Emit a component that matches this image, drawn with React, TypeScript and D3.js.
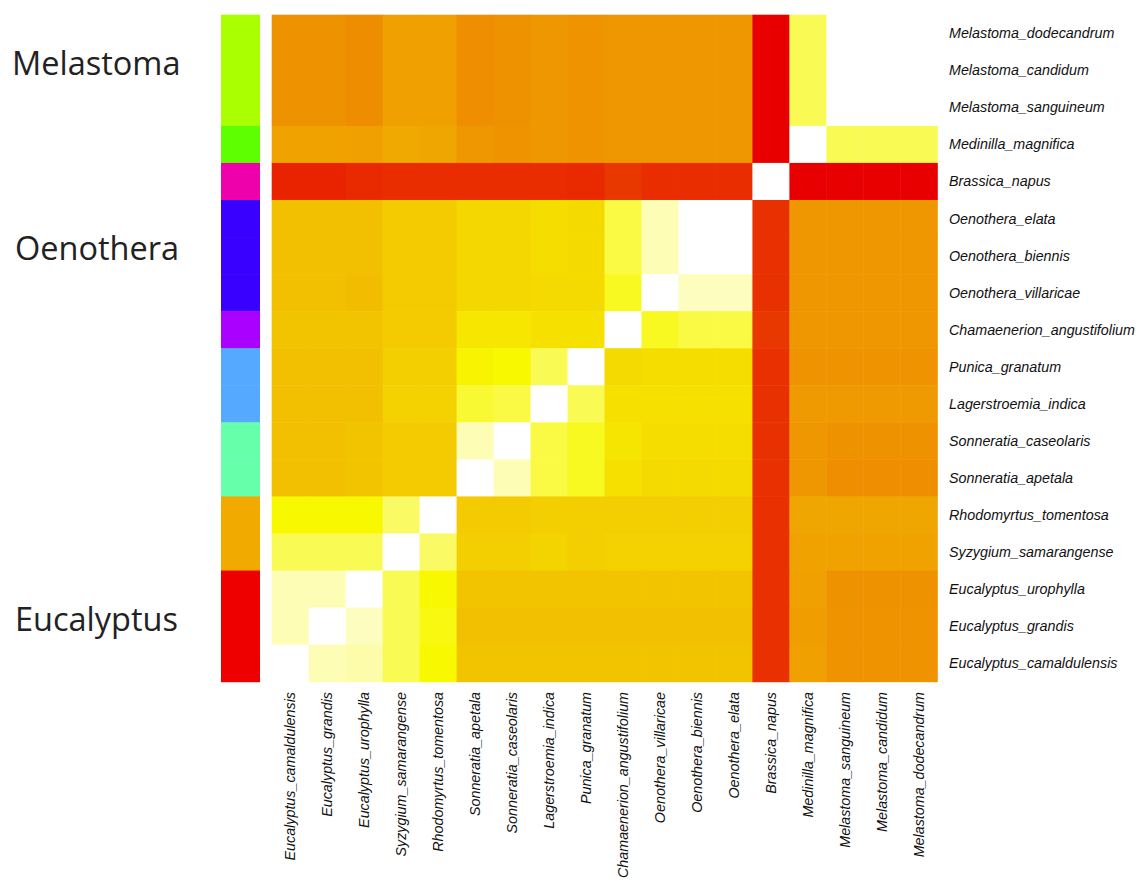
import React from "react";
import * as d3 from "d3";

// Row order (top to bottom)
const rowNames = [
  "Melastoma_dodecandrum",
  "Melastoma_candidum",
  "Melastoma_sanguineum",
  "Medinilla_magnifica",
  "Brassica_napus",
  "Oenothera_elata",
  "Oenothera_biennis",
  "Oenothera_villaricae",
  "Chamaenerion_angustifolium",
  "Punica_granatum",
  "Lagerstroemia_indica",
  "Sonneratia_caseolaris",
  "Sonneratia_apetala",
  "Rhodomyrtus_tomentosa",
  "Syzygium_samarangense",
  "Eucalyptus_urophylla",
  "Eucalyptus_grandis",
  "Eucalyptus_camaldulensis",
];

// Column order (left to right)
const colNames = [
  "Eucalyptus_camaldulensis",
  "Eucalyptus_grandis",
  "Eucalyptus_urophylla",
  "Syzygium_samarangense",
  "Rhodomyrtus_tomentosa",
  "Sonneratia_apetala",
  "Sonneratia_caseolaris",
  "Lagerstroemia_indica",
  "Punica_granatum",
  "Chamaenerion_angustifolium",
  "Oenothera_villaricae",
  "Oenothera_biennis",
  "Oenothera_elata",
  "Brassica_napus",
  "Medinilla_magnifica",
  "Melastoma_sanguineum",
  "Melastoma_candidum",
  "Melastoma_dodecandrum",
];

// Row side-bar colours (clade annotation)
const rowGroupColors = [
  "#aaff00", "#aaff00", "#aaff00",
  "#5eff00",
  "#ee00aa",
  "#3a00ff", "#3a00ff", "#3a00ff",
  "#aa00ff",
  "#55aaff", "#55aaff",
  "#66ffaa", "#66ffaa",
  "#f0aa00", "#f0aa00",
  "#ee0000", "#ee0000", "#ee0000",
];

// Group labels on the left: label, first row, last row
const groupLabels = ["Melastoma", "Oenothera", "Eucalyptus"];
const groupFirstRow = [0, 5, 15];
const groupLastRow = [2, 7, 17];

// Distance values (0 = identical / white, 1 = most distant / red)
const r00 = [0.57, 0.57, 0.59, 0.52, 0.52, 0.58, 0.57, 0.55, 0.56, 0.55, 0.55, 0.55, 0.55, 1.0, 0.15, 0, 0, 0];
const r01 = [0.57, 0.57, 0.59, 0.52, 0.52, 0.58, 0.57, 0.55, 0.56, 0.55, 0.55, 0.55, 0.55, 1.0, 0.15, 0, 0, 0];
const r02 = [0.57, 0.57, 0.59, 0.52, 0.52, 0.58, 0.57, 0.55, 0.56, 0.55, 0.55, 0.55, 0.55, 1.0, 0.15, 0, 0, 0];
const r03 = [0.51, 0.51, 0.52, 0.49, 0.5, 0.55, 0.56, 0.55, 0.56, 0.55, 0.55, 0.55, 0.55, 1.0, 0, 0.15, 0.15, 0.15];
const r04 = [0.9, 0.9, 0.88, 0.87, 0.87, 0.87, 0.87, 0.87, 0.88, 0.84, 0.87, 0.87, 0.87, 0, 1.0, 1.0, 1.0, 1.0];
const r05 = [0.4, 0.4, 0.4, 0.37, 0.37, 0.33, 0.33, 0.31, 0.32, 0.16, 0.08, 0, 0, 0.86, 0.55, 0.55, 0.55, 0.55];
const r06 = [0.4, 0.4, 0.4, 0.37, 0.37, 0.33, 0.33, 0.31, 0.32, 0.16, 0.08, 0, 0, 0.86, 0.55, 0.55, 0.55, 0.55];
const r07 = [0.4, 0.4, 0.41, 0.37, 0.37, 0.33, 0.33, 0.32, 0.32, 0.18, 0, 0.07, 0.07, 0.86, 0.55, 0.55, 0.55, 0.55];
const r08 = [0.39, 0.39, 0.39, 0.37, 0.37, 0.27, 0.27, 0.3, 0.3, 0, 0.18, 0.16, 0.16, 0.84, 0.55, 0.55, 0.55, 0.55];
const r09 = [0.4, 0.4, 0.4, 0.36, 0.36, 0.22, 0.2, 0.15, 0, 0.32, 0.31, 0.31, 0.31, 0.86, 0.56, 0.56, 0.56, 0.56];
const r10 = [0.4, 0.4, 0.4, 0.35, 0.35, 0.17, 0.16, 0, 0.15, 0.3, 0.3, 0.3, 0.3, 0.86, 0.54, 0.54, 0.54, 0.54];
const r11 = [0.4, 0.4, 0.39, 0.37, 0.37, 0.08, 0, 0.16, 0.18, 0.28, 0.31, 0.31, 0.31, 0.86, 0.55, 0.57, 0.57, 0.57];
const r12 = [0.4, 0.4, 0.39, 0.37, 0.37, 0, 0.08, 0.16, 0.18, 0.3, 0.32, 0.32, 0.32, 0.86, 0.55, 0.58, 0.58, 0.58];
const r13 = [0.2, 0.2, 0.2, 0.14, 0, 0.37, 0.37, 0.36, 0.36, 0.36, 0.36, 0.36, 0.36, 0.86, 0.5, 0.5, 0.5, 0.5];
const r14 = [0.15, 0.15, 0.15, 0, 0.14, 0.36, 0.36, 0.34, 0.36, 0.35, 0.35, 0.35, 0.35, 0.86, 0.51, 0.51, 0.51, 0.51];
const r15 = [0.08, 0.08, 0, 0.15, 0.2, 0.39, 0.39, 0.39, 0.39, 0.39, 0.39, 0.39, 0.39, 0.86, 0.52, 0.57, 0.57, 0.57];
const r16 = [0.08, 0, 0.07, 0.15, 0.19, 0.4, 0.4, 0.4, 0.4, 0.4, 0.4, 0.4, 0.4, 0.86, 0.53, 0.56, 0.56, 0.56];
const r17 = [0, 0.08, 0.09, 0.15, 0.2, 0.39, 0.39, 0.39, 0.39, 0.39, 0.39, 0.39, 0.39, 0.86, 0.52, 0.56, 0.56, 0.56];
const values = [r00, r01, r02, r03, r04, r05, r06, r07, r08, r09, r10, r11, r12, r13, r14, r15, r16, r17];

// Colour scale stops (heat colours)
const colorStops = [0, 0.07, 0.1, 0.15, 0.2, 0.3, 0.36, 0.4, 0.5, 0.56, 0.6, 0.86, 1.0];
const colorRange = [
  "#ffffff", "#fdfdc0", "#fcfca0", "#fafa55", "#f8f800", "#f6e000",
  "#f3ce00", "#f2c000", "#f0a600", "#ef9400", "#ee8a00", "#e93000", "#e80000",
];

export default function App() {
  const W = 1140;
  const H = 887;
  const left = 271.7;
  const right = 937.3;
  const top = 14.7;
  const bottom = 681.7;

  const x = d3.scaleBand<string>().domain(colNames).range([left, right]).padding(0);
  const y = d3.scaleBand<number>().domain(d3.range(rowNames.length)).range([top, bottom]).padding(0);
  const color = d3
    .scaleLinear<string>()
    .domain(colorStops)
    .range(colorRange)
    .interpolate(d3.interpolateRgb)
    .clamp(true);

  const bw = x.bandwidth();
  const bh = y.bandwidth();
  const labelFont = "'Liberation Sans', Arial, sans-serif";

  return (
    <svg
      width={W}
      height={H}
      style={{ position: "absolute", left: 0, top: 0, background: "#fff" }}
    >
      <rect x={0} y={0} width={W} height={H} fill="#fff" />
      {/* side colour bar */}
      {rowGroupColors.map((c, i) => (
        <rect key={"sb" + i} x={221} y={y(i)!} width={39} height={bh + 0.5} fill={c} />
      ))}
      {/* heatmap cells */}
      {values.map((row, i) =>
        row.map((v, j) => (
          <rect
            key={i + "-" + j}
            x={x(colNames[j])!}
            y={y(i)!}
            width={bw + 0.5}
            height={bh + 0.5}
            fill={color(v)}
          />
        ))
      )}
      {/* row labels */}
      {rowNames.map((n, i) => (
        <text
          key={"rl" + i}
          x={949}
          y={y(i)! + bh / 2}
          dominantBaseline="central"
          fontFamily={labelFont}
          fontStyle="italic"
          fontSize={14.3}
          fill="#111"
        >
          {n}
        </text>
      ))}
      {/* column labels */}
      {colNames.map((n, j) => {
        const cx = x(n)! + bw / 2;
        const ty = 692;
        return (
          <text
            key={"cl" + j}
            transform={`translate(${cx},${ty}) rotate(-90)`}
            textAnchor="end"
            dominantBaseline="central"
            fontFamily={labelFont}
            fontStyle="italic"
            fontSize={14.3}
            fill="#111"
          >
            {n}
          </text>
        );
      })}
      {/* group labels */}
      {groupLabels.map((g, k) => {
        const cy = (y(groupFirstRow[k])! + y(groupLastRow[k])! + bh) / 2 - 8;
        return (
          <text
            key={"g" + k}
            x={k === 0 ? 12 : 15}
            y={cy}
            dominantBaseline="central"
            fontFamily="'Open Sans', 'Noto Sans', sans-serif"
            fontSize={32.5}
            fill="#222"
          >
            {g}
          </text>
        );
      })}
    </svg>
  );
}
